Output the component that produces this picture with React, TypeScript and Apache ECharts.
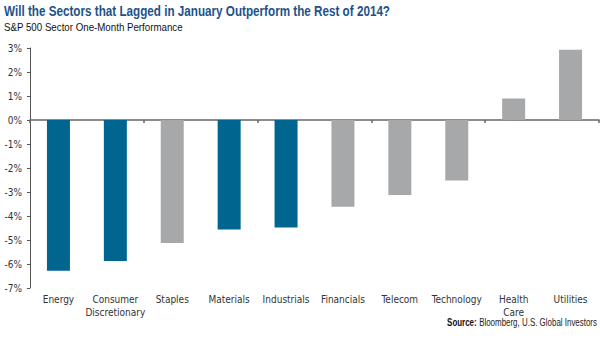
import React, { useEffect, useRef } from "react";
import * as echarts from "echarts";

const categories = ["Energy", "Consumer\nDiscretionary", "Staples", "Materials", "Industrials", "Financials", "Telecom", "Technology", "Health\nCare", "Utilities"];
const values = [-6.28, -5.88, -5.12, -4.56, -4.48, -3.61, -3.13, -2.52, 0.9, 2.93];
const highlighted = [true, true, false, true, true, false, false, false, false, false];
const titleText = "Will the Sectors that Lagged in January Outperform the Rest of 2014?";
const subtitleText = "S&P 500 Sector One-Month Performance";
const sourceLabel = "Source:";
const sourceText = " Bloomberg, U.S. Global Investors";

const BLUE = "#00658f";
const GRAY = "#a7a8aa";
const COND = "'DejaVu Sans Condensed', 'Liberation Sans', Arial, sans-serif";
const HELV = "'Liberation Sans', Arial, sans-serif";

function measure(text: string, font: string): number {
  const ctx = document.createElement("canvas").getContext("2d");
  if (!ctx) return text.length * 6;
  ctx.font = font;
  return ctx.measureText(text).width;
}

export default function App() {
  const ref = useRef<HTMLDivElement>(null);
  useEffect(() => {
    if (!ref.current) return;
    const chart = echarts.init(ref.current, null, { renderer: "svg" });
    const titleScale = 386 / measure(titleText, `bold 15px ${HELV}`);
    const subScale = 179 / measure(subtitleText, `11px ${HELV}`);
    const srcW = measure(sourceLabel, `bold 10.5px ${HELV}`) + measure(sourceText, `10.5px ${HELV}`);
    const srcScale = 150 / srcW;
    chart.setOption({
      animation: false,
      textStyle: { fontFamily: COND },
      graphic: [
        {
          type: "text",
          x: 4,
          y: 10.5,
          scaleX: titleScale,
          style: {
            text: titleText,
            font: `bold 15px ${HELV}`,
            fill: "#1c5289",
            align: "left",
            verticalAlign: "middle",
          },
        },
        {
          type: "text",
          x: 4,
          y: 27,
          scaleX: subScale,
          style: {
            text: subtitleText,
            font: `11px ${HELV}`,
            fill: "#111",
            align: "left",
            verticalAlign: "middle",
          },
        },
        {
          type: "text",
          x: 597,
          y: 323,
          scaleX: srcScale,
          style: {
            text: `{b|${sourceLabel}}{n|${sourceText}}`,
            align: "right",
            verticalAlign: "middle",
            rich: {
              b: { fontWeight: "bold", fontFamily: HELV, fontSize: 10.5, fill: "#111" },
              n: { fontFamily: HELV, fontSize: 10.5, fill: "#222" },
            },
          },
        },
      ],
      grid: { left: 30, right: 1, top: 48, bottom: 62, containLabel: false },
      xAxis: [
        {
          type: "category",
          data: categories,
          position: "bottom",
          axisLine: { show: false, onZero: false },
          axisTick: { show: false },
          axisLabel: { color: "#333", fontSize: 10, lineHeight: 13, margin: 5, interval: 0, fontFamily: COND },
        },
        {
          type: "category",
          data: categories,
          position: "bottom",
          axisLine: { show: true, onZero: true, lineStyle: { color: "#666", width: 1.5 } },
          axisTick: { show: true, length: 3, inside: false, lineStyle: { color: "#666", width: 1.5 } },
          axisLabel: { show: false },
        },
      ],
      yAxis: {
        type: "value",
        min: -7,
        max: 3,
        interval: 1,
        axisLine: { show: true, lineStyle: { color: "#555", width: 1 } },
        axisTick: { show: true, length: 3, lineStyle: { color: "#555" } },
        splitLine: { show: false },
        axisLabel: { formatter: "{value}%", color: "#333", fontSize: 10, margin: 8, fontFamily: COND },
      },
      series: [
        {
          type: "bar",
          xAxisIndex: 0,
          barWidth: 23,
          data: values.map((v, i) => ({ value: v, itemStyle: { color: highlighted[i] ? BLUE : GRAY } })),
        },
      ],
    });
    return () => chart.dispose();
  }, []);
  return <div ref={ref} style={{ width: 600, height: 350, position: "absolute", left: 0, top: 0, background: "#fff" }} />;
}
